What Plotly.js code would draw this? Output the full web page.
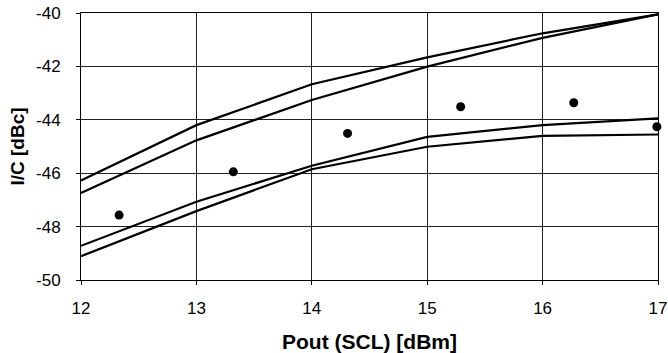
<!DOCTYPE html>
<html><head><meta charset="utf-8">
<script src="https://cdn.plot.ly/plotly-3.0.1.min.js"></script>
<style>html,body{margin:0;padding:0;background:#fff}</style>
</head><body><div id="chart" style="width:668px;height:353px"></div>
<script>
const xLine = [12, 13, 14, 15, 16, 17];
const upperA = [-46.27, -44.2, -42.67, -41.66, -40.76, -40.05];
const upperB = [-46.74, -44.77, -43.26, -42.01, -40.93, -40.05];
const lowerA = [-48.72, -47.07, -45.72, -44.64, -44.2, -43.95];
const lowerB = [-49.11, -47.42, -45.85, -45.01, -44.6, -44.55];
const xMeas = [12.33, 13.32, 14.31, 15.29, 16.27, 16.99];
const yMeas = [-47.57, -45.95, -44.51, -43.51, -43.36, -44.26];
const xTicks = [12, 13, 14, 15, 16, 17];
const yTicks = [-50, -48, -46, -44, -42, -40];

const lineStyle = {color: '#000', width: 2.2};
const traces = [upperA, upperB, lowerA, lowerB].map(y => ({
  x: xLine, y: y, type: 'scatter', mode: 'lines', line: lineStyle, hoverinfo: 'skip'
}));
traces.push({x: xMeas, y: yMeas, type: 'scatter', mode: 'markers',
  marker: {color: '#000', size: 9, symbol: 'circle'}, cliponaxis: false});

const layout = {
  width: 668, height: 353,
  margin: {l: 81, r: 10, t: 13, b: 73},
  showlegend: false,
  paper_bgcolor: '#fff', plot_bgcolor: '#fff',
  font: {family: '"Liberation Sans", Arial, sans-serif', color: '#000'},
  xaxis: {
    range: [12, 17], tickvals: xTicks, ticktext: xTicks.map(String),
    showgrid: true, gridcolor: '#222', gridwidth: 1,
    showline: true, linecolor: '#000', linewidth: 1, mirror: true,
    ticks: 'outside', ticklen: 4, tickcolor: '#000',
    tickfont: {size: 17}, zeroline: false, ticklabelstandoff: 9,
    title: {text: 'Pout (SCL) [dBm]', font: {size: 21, weight: 'bold'}, standoff: 19}
  },
  yaxis: {
    range: [-50, -40], tickvals: yTicks, ticktext: yTicks.map(String),
    showgrid: true, gridcolor: '#222', gridwidth: 1,
    showline: true, linecolor: '#000', linewidth: 1, mirror: true,
    ticks: 'outside', ticklen: 4, tickcolor: '#000',
    tickfont: {size: 17}, zeroline: false, ticklabelstandoff: 12,
    title: {text: 'I/C [dBc]', font: {size: 19, weight: 'bold'}, standoff: 6}
  }
};
Plotly.newPlot('chart', traces, layout, {staticPlot: true, displayModeBar: false});
</script></body></html>
